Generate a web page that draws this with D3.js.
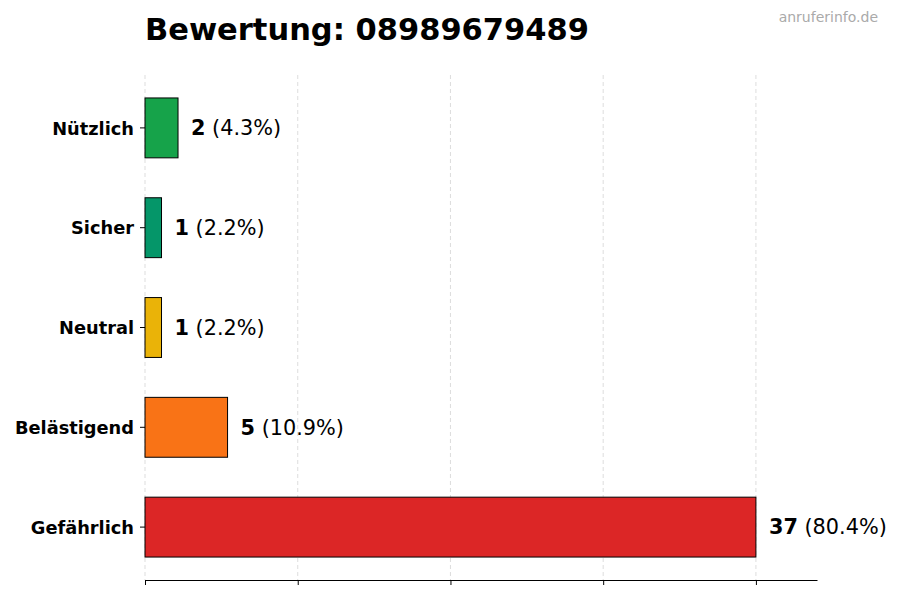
<!DOCTYPE html>
<html>
<head>
<meta charset="utf-8">
<script src="https://cdn.jsdelivr.net/npm/d3@7"></script>
<style>
	body { margin: 0; background: #fff; }
	text { font-family: "DejaVu Sans", sans-serif; }
</style>
</head>
<body>
<script>
var categories = ["Nützlich", "Sicher", "Neutral", "Belästigend", "Gefährlich"]
var counts = [2, 1, 1, 5, 37]
var percents = ["4.3%", "2.2%", "2.2%", "10.9%", "80.4%"]
var colors = ["#16a34a", "#059669", "#eab308", "#f97316", "#dc2626"]
var title = "Bewertung: 08989679489"
var watermark = "anruferinfo.de"

var width = 900, height = 600
var plot_left = 145, plot_right = 817, plot_top = 75, plot_bottom = 580
var maxVal = d3.max(counts)

var svg = d3.select("body").append("svg")
	.attr("width", width)
	.attr("height", height)

var x = d3.scaleLinear().domain([0, maxVal * 1.1]).range([plot_left, plot_right])
var y = d3.scaleBand().domain(categories).range([plot_top, plot_bottom])
	.paddingInner(0.4).paddingOuter(0.23)

// ticks at quarters of the max, no labels
var tickVals = d3.range(5).map((i) => maxVal * i / 4)

svg.append("g")
	.selectAll("line")
	.data(tickVals)
	.enter().append("line")
		.attr("x1", (d) => x(d)).attr("x2", (d) => x(d))
		.attr("y1", plot_top).attr("y2", plot_bottom)
		.attr("stroke", "#d4d4d4")
		.attr("stroke-width", 0.8)
		.attr("stroke-dasharray", "4,3")

svg.append("g")
	.attr("transform", "translate(0," + plot_bottom + ")")
	.call(d3.axisBottom(x).tickValues(tickVals).tickFormat("").tickSize(5).tickSizeOuter(0))
	.call((g) => g.select(".domain").attr("stroke", "#000"))

svg.append("g")
	.attr("transform", "translate(" + plot_left + ",0)")
	.call(d3.axisLeft(y).tickSize(5).tickPadding(6))
	.call((g) => g.select(".domain").remove())
	.call((g) => g.selectAll("text")
		.attr("font-family", "DejaVu Sans")
		.attr("font-size", 17.8)
		.attr("font-weight", "bold")
		.attr("dy", "0.38em")
		.attr("fill", "#000"))

svg.append("g")
	.selectAll("rect")
	.data(categories)
	.enter().append("rect")
		.attr("x", x(0))
		.attr("y", (d) => y(d))
		.attr("width", (d, i) => x(counts[i]) - x(0))
		.attr("height", y.bandwidth())
		.attr("fill", (d, i) => colors[i])
		.attr("stroke", "#000")
		.attr("stroke-width", 1)

var labels = svg.append("g")
	.selectAll("text")
	.data(categories)
	.enter().append("text")
		.attr("x", (d, i) => x(counts[i]) + 13)
		.attr("y", (d) => y(d) + y.bandwidth() / 2)
		.attr("dy", "0.35em")
		.attr("font-size", 20.8)
		.attr("fill", "#000")
labels.append("tspan")
	.attr("font-weight", "bold")
	.text((d, i) => counts[i])
labels.append("tspan")
	.text((d, i) => " (" + percents[i] + ")")

svg.append("text")
	.attr("x", plot_left)
	.attr("y", 40)
	.attr("font-size", 30.5)
	.attr("font-weight", "bold")
	.attr("fill", "#000")
	.text(title)

svg.append("text")
	.attr("x", 878)
	.attr("y", 22)
	.attr("text-anchor", "end")
	.attr("font-size", 14)
	.attr("fill", "#aaaaaa")
	.text(watermark)
</script>
</body>
</html>
